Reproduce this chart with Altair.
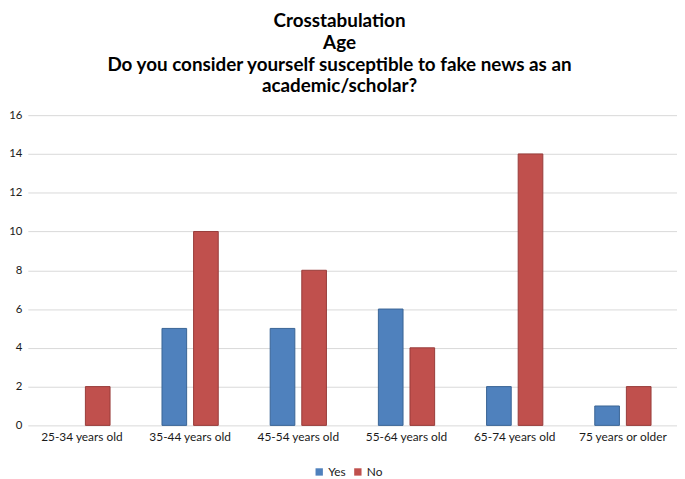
import altair as alt
import pandas as pd

categories = ["25-34 years old", "35-44 years old", "45-54 years old",
              "55-64 years old", "65-74 years old", "75 years or older"]
series = ["Yes", "No"]
yes_values = [0, 5, 5, 6, 2, 1]
no_values = [2, 10, 8, 4, 14, 2]
y_ticks = [0, 2, 4, 6, 8, 10, 12, 14, 16]
title_lines = ["Crosstabulation", "Age",
               "Do you consider yourself susceptible to fake news as an",
               "academic/scholar?"]

rows = []
for c, y, n in zip(categories, yes_values, no_values):
    rows.append({"Age": c, "Answer": "Yes", "Count": y})
    rows.append({"Age": c, "Answer": "No", "Count": n})
df = pd.DataFrame(rows)

FONT = "Lato"

chart = alt.Chart(df).transform_filter("datum.Count > 0").mark_bar(strokeWidth=1).encode(
    x=alt.X("Age:N", sort=categories, title=None,
            scale=alt.Scale(domain=categories, paddingInner=0.48, paddingOuter=0.24),
            axis=alt.Axis(labelAngle=0, ticks=False, domain=False, grid=False,
                          labelFontSize=12, labelColor="#1a1a1a",
                          labelPadding=6, labelFont=FONT)),
    xOffset=alt.XOffset("Answer:N",
                        scale=alt.Scale(domain=series, paddingInner=0.22)),
    y=alt.Y("Count:Q", title=None,
            scale=alt.Scale(domain=[0, 16], nice=False),
            axis=alt.Axis(values=y_ticks, ticks=False, domain=False,
                          gridColor="#D9D9D9", gridWidth=1,
                          labelFontSize=11.5, labelColor="#1a1a1a",
                          labelPadding=6, labelFont=FONT)),
    color=alt.Color("Answer:N",
                    scale=alt.Scale(domain=series, range=["#4F81BD", "#C0504D"]),
                    legend=alt.Legend(title=None, orient="none",
                                      legendX=288, legendY=354,
                                      direction="horizontal",
                                      symbolType="square", symbolSize=55,
                                      symbolStrokeWidth=0,
                                      labelFontSize=12, labelColor="#1a1a1a",
                                      labelFont=FONT, columnPadding=6,
                                      labelOffset=3, symbolOffset=0)),
    stroke=alt.Stroke("Answer:N",
                      scale=alt.Scale(domain=series, range=["#3A6495", "#983C3A"]),
                      legend=None),
).properties(
    width=655,
    height=313,
    title=alt.TitleParams(text=title_lines, anchor="middle", fontSize=19,
                          fontWeight="bold", font=FONT, color="#000000",
                          lineHeight=22, offset=13, dx=-13),
    autosize=alt.AutoSizeParams(type="none"),
    padding={"left": 20, "top": 106, "right": 0, "bottom": 54},
).configure_view(stroke=None)

chart.save("out.html", embed_options={"renderer": "svg", "actions": False})
